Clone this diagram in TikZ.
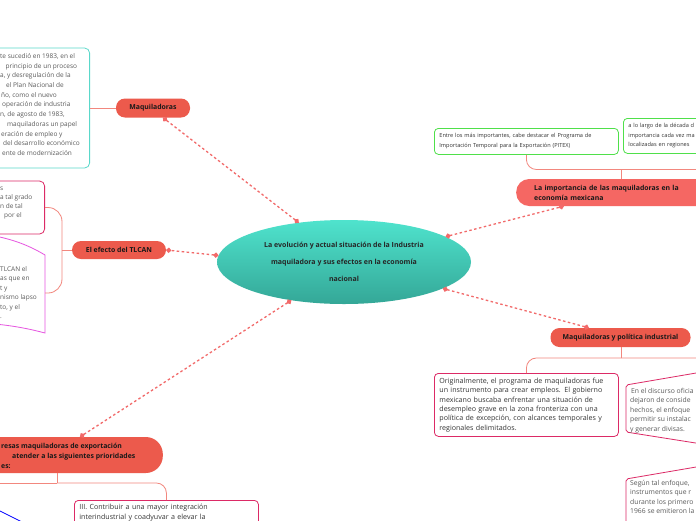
\documentclass[tikz,border=0pt]{standalone}
\usepackage{fontspec}
\setmainfont{Open Sans}
\usetikzlibrary{arrows.meta,positioning,shapes.geometric}
\definecolor{mapred}{HTML}{EC5A4C}
\definecolor{mapsalmon}{HTML}{F56763}
\definecolor{linkred}{HTML}{F26A6A}
\definecolor{branchred}{HTML}{F2877E}
\definecolor{tealtop}{HTML}{4FE3CD}
\definecolor{tealbot}{HTML}{34A797}
\definecolor{cyanline}{HTML}{5AD8CA}
\definecolor{crimson}{HTML}{DC2A66}
\definecolor{magline}{HTML}{E655E0}
\definecolor{greenline}{HTML}{4FE04A}
\definecolor{txtgray}{HTML}{5A5A5A}
\definecolor{txtdark}{HTML}{333333}
\tikzset{
  pill/.style={draw=none,fill=mapred,rectangle,rounded corners=9pt,inner sep=0pt,text=black!90,font=\bfseries\fontsize{6.9}{10}\selectfont},
  note/.style={draw,rectangle,rounded corners=4pt,line width=0.8pt,align=left,anchor=north west,inner xsep=5pt,inner ysep=4pt,text=txtdark,font=\fontsize{7.1}{9.4}\selectfont},
  plain/.style={inner sep=0pt,align=left,anchor=west,text=txtgray,font=\fontsize{6.5}{9.7}\selectfont},
  frame/.style={draw,rectangle,rounded corners=5pt,line width=0.8pt,anchor=east},
  link/.style={{Circle[length=5pt]}-{Circle[length=5pt]},linkred,line width=1.3pt,dash pattern=on 2.5pt off 2.5pt},
  branch/.style={branchred,line width=0.8pt,rounded corners=10pt}
}

\begin{document}
\begin{tikzpicture}[x=1pt,y=-1pt]
  \useasboundingbox[fill=white] (0,0) rectangle (696,520);
  \clip (0,0) rectangle (696,520);

  % central topic
  \node[ellipse,minimum width=254pt,minimum height=84pt,top color=tealtop,bottom color=tealbot,
    align=center,text=black!85,font=\bfseries\fontsize{7}{17}\selectfont] (topic) at (344,262)
    {La evolución y actual situación de la Industria\\maquiladora y sus efectos en la economía\\nacional};

  % main branches
  \node[pill,minimum width=74pt,minimum height=19pt] (maqui) at (153,108) {Maquiladoras};
  \node[pill,minimum width=94pt,minimum height=18pt] (tlcan) at (119,250) {El efecto del TLCAN};
  \node[pill,fill=mapsalmon,anchor=west,align=left,text width=200pt,inner xsep=18pt,
    minimum height=27pt,rounded corners=13pt] (impo) at (516,192.5)
    {La importancia de las maquiladoras en la\\economía mexicana};
  \node[pill,minimum width=140pt,minimum height=19pt] (polit) at (620.5,337.5) {Maquiladoras y política industrial};
  \node[pill,minimum width=240pt,minimum height=36pt,rounded corners=17pt,anchor=east] (prior) at (163,455) {};
  \node[plain,text=black!90,font=\bfseries\fontsize{6.9}{10}\selectfont] (priortxt) at (1,456)
    {resas maquiladoras de exportación\\\kern11pt atender a las siguientes prioridades\\es:};

  % Maquiladoras
  \node[frame,draw=cyanline,minimum width=150pt,minimum height=120pt] (devbox) at (90,108) {};
  \node[plain] (devtxt) at (0,104.5)
    {te sucedió en 1983, en el\\\kern5.5pt principio de un proceso\\a, y desregulación de la\\%
     \kern6pt el Plan Nacional de\\\kern1pt ño, como el nuevo\\\kern2pt operación de industria\\%
     n, de agosto de 1983,\\\kern7pt maquiladoras un papel\\\kern1pt eración de empleo y\\%
     \kern3pt del desarrollo económico\\\kern2pt ente de modernización};

  % El efecto del TLCAN
  \node[frame,draw=crimson,minimum width=80pt,minimum height=53pt] (capbox) at (45,207.5) {};
  \node[plain,font=\fontsize{6.5}{9}\selectfont] (captxt) at (0,203.5) {s\\a tal grado\\n de tal\\\kern4pt por el};
  \draw[magline,line width=0.8pt] (-5,236) .. controls (15,240) and (30,246) .. (45,255)
    -- (45,333) .. controls (30,329) and (15,326) .. (-5,324);
  \coordinate (flagB) at (45,293);
  \node[plain,font=\fontsize{6.5}{9.4}\selectfont] (flagtxt) at (0,292.5) {TLCAN el\\as que en\\t y\\nismo lapso\\to, y el\\.};

  % La importancia
  \node[note,draw=greenline,text width=174pt,minimum height=26pt,font=\fontsize{5.6}{10}\selectfont] (gone) at (434,128)
    {Entre los más importantes, cabe destacar el Programa de\\Importación Temporal para la Exportación (PITEX)};
  \node[note,draw=greenline,text width=160pt,minimum height=35pt,font=\fontsize{5.6}{9.5}\selectfont] (gtwo) at (623,118)
    {a lo largo de la década d\\importancia cada vez ma\\localizadas en regiones};

  % politica industrial
  \node[note,draw=crimson,text width=174pt,minimum height=63pt] (hone) at (434,373)
    {Originalmente, el programa de maquiladoras fue\\un instrumento para crear empleos. El gobierno\\%
     mexicano buscaba enfrentar una situación de\\desempleo grave en la zona fronteriza con una\\%
     política de excepción, con alcances temporales y\\regionales delimitados.};
  \draw[crimson,line width=0.8pt,rounded corners=2pt] (702,372) -- (626,385) -- (626,432) -- (702,444);
  \coordinate (htwo) at (708,385);
  \node[plain,font=\fontsize{6.8}{9.5}\selectfont] (htwotxt) at (630,410.5)
    {\kern1pt En el discurso oficia\\dejaron de conside\\hechos, el enfoque\\permitir su instalac\\y generar divisas.};
  \draw[crimson,line width=0.8pt,rounded corners=2pt] (702,466) -- (626,479) -- (626,530);
  \node[plain,font=\fontsize{6.8}{9.2}\selectfont] (hthreetxt) at (630,497)
    {Según tal enfoque,\\instrumentos que r\\durante los primero\\1966 se emitieron la};

  % prioridades
  \node[note,draw=crimson,text width=174pt] (three) at (74,500)
    {III. Contribuir a una mayor integración\\interindustrial y coadyuvar a elevar la};
  \coordinate (bluea) at (-10,506);
  \coordinate (blueb) at (24,523);
  \draw[blue,line width=0.8pt] (bluea) -- (blueb);

  % branch lines
  \draw[branch] (devbox.east) -- (maqui.west);
  \coordinate (tlj) at (62,250);
  \draw[branch] (tlcan.west) -- (tlj);
  \draw[branch,rounded corners=14pt] (tlj) |- (capbox.east);
  \draw[branch,rounded corners=14pt] (tlj) |- (flagB);
  \coordinate (impj) at (621,169.5);
  \draw[branch] (impo.north -| impj) -- (impj);
  \draw[branch] (impj) -| (gone.south);
  \draw[branch] (impj) -| (gtwo.south);
  \coordinate (polj) at (621,358);
  \draw[branch] (polit.south -| polj) -- (polj);
  \draw[branch] (polj) -| (hone.north);
  \draw[branch] (polj) -| (htwo);
  \coordinate (prij) at (57,483);
  \coordinate (prileft) at (-10,483);
  \draw[branch] (prior.south -| prij) -- (prij);
  \draw[branch] (prij) -| (three.north);
  \draw[branch] (prij) -- (prileft);

  % links to the central topic
  \draw[link] (topic.139) -- (maqui.-44);
  \draw[link] (topic.177) -- (tlcan.east);
  \draw[link] (topic.14) -- (impo.191);
  \draw[link] (topic.-15) -- (polit.163);
  \draw[link] (topic.-144) -- (prior.26);
\end{tikzpicture}
\end{document}
